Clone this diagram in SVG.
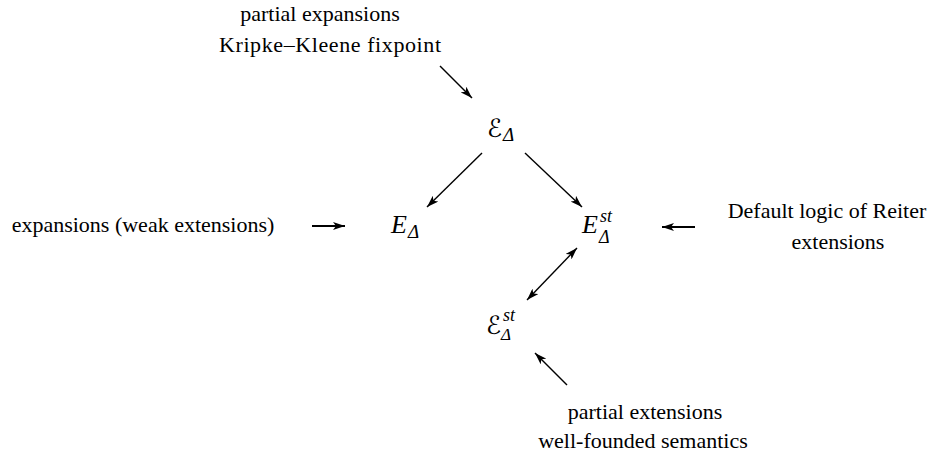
<svg xmlns="http://www.w3.org/2000/svg" width="933" height="460" viewBox="0 0 933 460">
<style>
.t{font-family:"Liberation Serif","Times New Roman",serif;font-size:22px;fill:#000;text-anchor:middle}
.m{font-family:"Liberation Serif","Times New Roman",serif;font-style:italic;fill:#000}
.c{font-family:"DejaVu Serif","DejaVu Sans",serif;font-style:italic;fill:#000}
.ln{stroke:#000;stroke-width:1.4;fill:none}
.lh{stroke:#000;stroke-width:2;fill:none}
</style>
<defs>
<marker id="ah" viewBox="0 0 12 8" refX="12" refY="4" markerWidth="12" markerHeight="8" markerUnits="userSpaceOnUse" orient="auto-start-reverse">
<path d="M0,0 L12,4 L0,8 L3,4 Z" fill="#000"/>
</marker>
</defs>
<g id="labels">
<text class="t" x="320" y="21">partial expansions</text>
<text class="t" x="330" y="52" textLength="222" lengthAdjust="spacing">Kripke–Kleene fixpoint</text>
<text class="t" x="143" y="232">expansions (weak extensions)</text>
<text class="t" x="827" y="218">Default logic of Reiter</text>
<text class="t" x="838" y="249">extensions</text>
<text class="t" x="645" y="419">partial extensions</text>
<text class="t" x="643" y="448">well-founded semantics</text>
</g>
<g id="n-calE">
<text class="c" x="487" y="137" font-size="25">ℰ</text>
<text class="m" x="503" y="141" font-size="19">Δ</text>
</g>
<g id="n-E">
<text class="m" x="391" y="233" font-size="26">E</text>
<text class="m" x="408" y="238" font-size="19">Δ</text>
</g>
<g id="n-Est">
<text class="m" x="582" y="233" font-size="26">E</text>
<text class="m" x="600" y="222" font-size="18">st</text>
<text class="m" x="599" y="243" font-size="18">Δ</text>
</g>
<g id="n-calEst">
<text class="c" x="486" y="334" font-size="25">ℰ</text>
<text class="m" x="503" y="321" font-size="18">st</text>
<text class="m" x="501" y="340" font-size="17">Δ</text>
</g>
<g id="connectors">
<line class="ln" x1="440" y1="66" x2="472" y2="98" marker-end="url(#ah)"/>
<line class="ln" x1="482" y1="153" x2="427" y2="207" marker-end="url(#ah)"/>
<line class="ln" x1="525" y1="153" x2="582" y2="207" marker-end="url(#ah)"/>
<line class="ln" x1="527" y1="300" x2="577" y2="248" marker-start="url(#ah)" marker-end="url(#ah)"/>
<line class="ln" x1="567" y1="385" x2="535" y2="353" marker-end="url(#ah)"/>
<line class="lh" x1="312" y1="226" x2="345" y2="226" marker-end="url(#ah)"/>
<line class="lh" x1="695" y1="227" x2="662" y2="227" marker-end="url(#ah)"/>
</g>
</svg>
